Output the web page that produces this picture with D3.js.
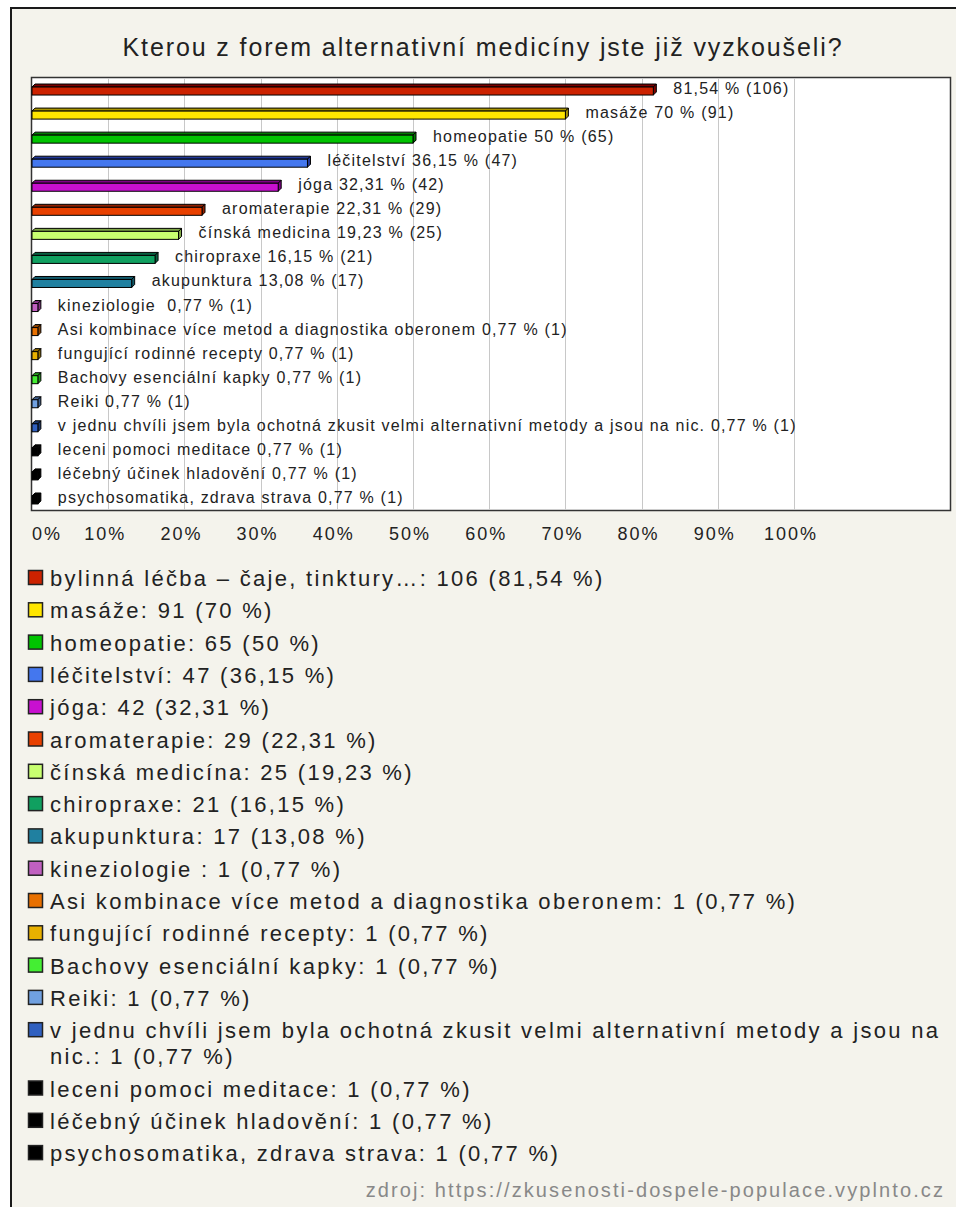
<!DOCTYPE html>
<html>
<head>
<meta charset="utf-8">
<script src="https://cdn.jsdelivr.net/npm/d3@7"></script>
<style>
  body { margin: 0; background: #fff; }
  svg text { font-family: "Liberation Sans", Arial, sans-serif; white-space: pre; }
</style>
</head>
<body>
<div id="chart"></div>
<script>
// data (130 respondents)
const categories = [
  "bylinná léčba – čaje, tinktury…", "masáže", "homeopatie", "léčitelství", "jóga",
  "aromaterapie", "čínská medicína", "chiropraxe", "akupunktura", "kineziologie ",
  "Asi kombinace více metod a diagnostika oberonem", "fungující rodinné recepty",
  "Bachovy esenciální kapky", "Reiki",
  "v jednu chvíli jsem byla ochotná zkusit velmi alternativní metody a jsou na nic.",
  "leceni pomoci meditace", "léčebný účinek hladovění", "psychosomatika, zdrava strava"
];
// names written next to the bars (the first one is left out in the original)
const barNames = [
  "", "masáže", "homeopatie", "léčitelství", "jóga",
  "aromaterapie", "čínská medicina", "chiropraxe", "akupunktura", "kineziologie ",
  "Asi kombinace více metod a diagnostika oberonem", "fungující rodinné recepty",
  "Bachovy esenciální kapky", "Reiki",
  "v jednu chvíli jsem byla ochotná zkusit velmi alternativní metody a jsou na nic.",
  "leceni pomoci meditace", "léčebný účinek hladovění", "psychosomatika, zdrava strava"
];
const counts = [106, 91, 65, 47, 42, 29, 25, 21, 17, 1, 1, 1, 1, 1, 1, 1, 1, 1];
const percents = [81.54, 70, 50, 36.15, 32.31, 22.31, 19.23, 16.15, 13.08,
  0.77, 0.77, 0.77, 0.77, 0.77, 0.77, 0.77, 0.77, 0.77];
const colors = ["#cc2200", "#ffe600", "#00c400", "#4477ee", "#c810d0", "#e84000",
  "#c8ff70", "#10a060", "#2080a0", "#c060c0", "#e87000", "#e8b000",
  "#44ee33", "#70a0e0", "#3060c0", "#000000", "#000000", "#000000"];
const darkColors = ["#7a0000", "#a89400", "#007a00", "#22399a", "#800088", "#902000",
  "#80a848", "#086040", "#105868", "#803080", "#904400", "#906c00",
  "#229a1a", "#40608e", "#1a3870", "#000000", "#000000", "#000000"];
const ticks = [0, 10, 20, 30, 40, 50, 60, 70, 80, 90, 100];

const title = "Kterou z forem alternativní medicíny jste již vyzkoušeli?";
const source = "zdroj: https://zkusenosti-dospele-populace.vyplnto.cz";

const fmt = v => String(v).replace(".", ",");

const W = 956, H = 1207;
const svg = d3.select("#chart").append("svg")
  .attr("width", W).attr("height", H);

// outer frame
svg.append("rect")
  .attr("x", 11).attr("y", 8)
  .attr("width", 1000).attr("height", 1300)
  .attr("fill", "#f4f3ec")
  .attr("stroke", "#1a1a1a").attr("stroke-width", 2);

// title
svg.append("text")
  .attr("x", 483).attr("y", 56)
  .attr("text-anchor", "middle")
  .style("font-size", "25px")
  .style("letter-spacing", "1.9px")
  .attr("fill", "#222")
  .text(title);

// plot box
const plot = { left: 32, right: 951, top: 77, bottom: 510 };

const x = d3.scaleLinear().domain([0, 100]).range([plot.left, 794]);
const y = d3.scaleBand().domain(d3.range(categories.length))
  .range([plot.top, plot.bottom]);

svg.append("rect")
  .attr("x", plot.left - 0.5).attr("y", plot.top + 0.5)
  .attr("width", plot.right - plot.left).attr("height", plot.bottom - plot.top)
  .attr("fill", "#fff")
  .attr("stroke", "#333").attr("stroke-width", 1.5);

// grid lines
svg.selectAll("line.grid")
  .data(ticks.slice(1))
  .enter()
  .append("line")
  .attr("class", "grid")
  .attr("x1", d => Math.round(x(d)) + 0.5)
  .attr("x2", d => Math.round(x(d)) + 0.5)
  .attr("y1", plot.top + 1)
  .attr("y2", plot.bottom)
  .attr("stroke", "#c8c8c8");

// 3d bars
const depth = 3;
const bars = svg.selectAll("g.bar")
  .data(percents)
  .enter()
  .append("g")
  .attr("class", "bar");

const cy = i => y(i) + y.bandwidth() / 2;

bars.append("path")
  .attr("d", (d, i) => {
    let x0 = x(0), x1 = x(d), t = cy(i) - 2;
    return `M${x0},${t} L${x0 + depth},${t - depth} L${x1 + depth},${t - depth} L${x1},${t} Z`;
  })
  .attr("fill", (d, i) => darkColors[i])
  .attr("stroke", "#000").attr("stroke-width", 1);

bars.append("path")
  .attr("d", (d, i) => {
    let x1 = x(d), t = cy(i) - 2;
    return `M${x1},${t} L${x1 + depth},${t - depth} L${x1 + depth},${t + 8 - depth} L${x1},${t + 8} Z`;
  })
  .attr("fill", (d, i) => darkColors[i])
  .attr("stroke", "#000").attr("stroke-width", 1);

bars.append("rect")
  .attr("x", x(0))
  .attr("y", (d, i) => cy(i) - 2)
  .attr("width", d => x(d) - x(0))
  .attr("height", 8)
  .attr("fill", (d, i) => colors[i])
  .attr("stroke", "#000").attr("stroke-width", 1);

// bar labels
bars.append("text")
  .attr("x", d => x(d) + 20)
  .attr("y", (d, i) => cy(i) + 5)
  .style("font-size", "16px")
  .style("letter-spacing", "1.2px")
  .attr("fill", "#222")
  .text((d, i) => (barNames[i] ? barNames[i] + " " : "") + fmt(d) + " % (" + counts[i] + ")");

// tick labels
svg.selectAll("text.tick")
  .data(ticks)
  .enter()
  .append("text")
  .attr("class", "tick")
  .attr("x", d => d === 0 ? x(d) : x(d) - 3)
  .attr("y", 540)
  .attr("text-anchor", d => d === 0 ? "start" : "middle")
  .style("font-size", "18px")
  .style("letter-spacing", "2px")
  .attr("fill", "#222")
  .text(d => d + "%");

// legend
const legendX = 50, maxW = 945 - legendX;
let ly = 586;
categories.forEach((name, i) => {
  const g = svg.append("g");
  g.append("rect")
    .attr("x", 28.5).attr("y", ly - 15.5)
    .attr("width", 14).attr("height", 14)
    .attr("fill", colors[i])
    .attr("stroke", "#222").attr("stroke-width", 1.5);
  const t = g.append("text")
    .attr("x", legendX).attr("y", ly)
    .style("font-size", "22px")
    .style("letter-spacing", "2.3px")
    .attr("fill", "#222");
  const words = (name + ": " + counts[i] + " (" + fmt(percents[i]) + " %)").split(" ");
  let line = [], tspan = t.append("tspan").attr("x", legendX).attr("y", ly);
  words.forEach(w => {
    line.push(w);
    tspan.text(line.join(" "));
    if (tspan.node().getComputedTextLength() > maxW && line.length > 1) {
      line.pop();
      tspan.text(line.join(" "));
      line = [w];
      ly += 26;
      tspan = t.append("tspan").attr("x", legendX).attr("y", ly).text(w);
    }
  });
  ly += 32.3;
});

// source
svg.append("text")
  .attr("x", 945).attr("y", 1197)
  .attr("text-anchor", "end")
  .style("font-size", "20px")
  .style("letter-spacing", "2.1px")
  .attr("fill", "#888")
  .text(source);
</script>
</body>
</html>
